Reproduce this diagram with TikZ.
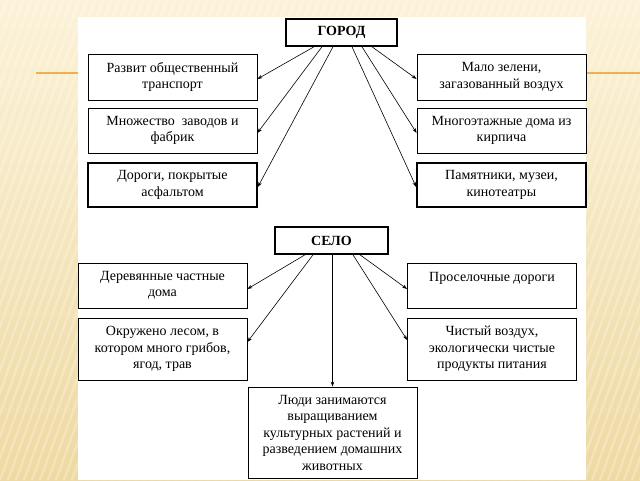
\documentclass[tikz,border=0pt]{standalone}
\usepackage{fontspec}
\setmainfont{Liberation Serif}
\usetikzlibrary{arrows.meta}
\definecolor{bgtop}{HTML}{FCF2D8}
\definecolor{bgbot}{HTML}{EED9A2}
\definecolor{rule}{HTML}{EDB24E}
\tikzset{
  box/.style={draw, line width=0.8pt, minimum width=169pt, align=center,
    inner sep=2pt, font=\fontsize{14}{16.5}\selectfont},
  head/.style={draw, line width=1.6pt, minimum height=27pt,
    font=\fontsize{14}{16.5}\selectfont\bfseries},
  link/.style={line width=0.6pt, ->, >={Stealth[length=5pt,width=3.5pt]}}
}
\begin{document}
\begin{tikzpicture}[x=1pt,y=1pt]
% slide background
\shade[top color=bgtop, bottom color=bgbot] (0,0) rectangle (640,480);
\begin{scope}
\clip (0,0) rectangle (640,480);
\foreach \i in {-200,-192,...,640}
  \draw[white, opacity=0.25, line width=2.5pt] (\i,0) -- (\i+175,480);
\end{scope}
\useasboundingbox (0,0) rectangle (640,480);
\draw[rule, line width=1.8pt] (36,407) -- (640,407);
\fill[white] (78,0) rectangle (586,463);

% city
\node[head, minimum width=111pt] (gorod) at (341.5,447.5) {ГОРОД};
\node[box, minimum height=46pt] (transp) at (172.5,403) {Развит общественный\\транспорт};
\node[box, minimum height=46pt] (zelen) at (501.5,403) {Мало зелени,\\загазованный воздух};
\node[box, minimum height=45pt] (zavod) at (172.5,349.5) {Множество~ заводов и\\фабрик};
\node[box, minimum height=45pt] (doma) at (501.5,349.5) {Многоэтажные дома из\\кирпича};
\node[box, line width=1.6pt, minimum height=44pt] (dorogi) at (172.5,295) {Дороги, покрытые\\асфальтом};
\node[box, line width=1.6pt, minimum height=44pt] (pamyat) at (501.5,295) {Памятники, музеи,\\кинотеатры};

\draw[link] ([xshift=-27.5pt]gorod.south) -- ([yshift=-2pt]transp.east);
\draw[link] ([xshift=-19.5pt]gorod.south) -- ([yshift=-2.5pt]zavod.east);
\draw[link] ([xshift=-8.5pt]gorod.south) -- ([yshift=-2pt]dorogi.east);
\draw[link] ([xshift=30.5pt]gorod.south) -- ([yshift=-2pt]zelen.west);
\draw[link] ([xshift=20.5pt]gorod.south) -- ([yshift=-2.5pt]doma.west);
\draw[link] ([xshift=10.5pt]gorod.south) -- ([yshift=-2pt]pamyat.west);

% village
\node[head, minimum width=113pt] (selo) at (331.5,239.5) {СЕЛО};
\node[box, minimum height=45pt] (derev) at (162.5,194.5) {Деревянные частные\\дома};
\node[box, minimum height=45pt] (prosel) at (492,194.5) {Проселочные дороги\\~};
\node[box, minimum height=62pt] (les) at (162.5,131) {Окружено лесом, в\\котором много грибов,\\ягод, трав};
\node[box, minimum height=62pt] (vozduh) at (492,131) {Чистый воздух,\\экологически чистые\\продукты питания};
\node[box, minimum height=91pt] (lyudi) at (332.5,47.5) {Люди занимаются\\выращиванием\\культурных растений и\\разведением домашних\\животных};

\draw[link] ([xshift=-26.5pt]selo.south) -- ([yshift=-3.5pt]derev.east);
\draw[link] ([xshift=-18.5pt]selo.south) -- ([yshift=7pt]les.east);
\draw[link] (lyudi.north |- selo.south) -- (lyudi.north);
\draw[link] ([xshift=28.5pt]selo.south) -- ([yshift=-3.5pt]prosel.west);
\draw[link] ([xshift=21.5pt]selo.south) -- ([yshift=9pt]vozduh.west);
\end{tikzpicture}
\end{document}
